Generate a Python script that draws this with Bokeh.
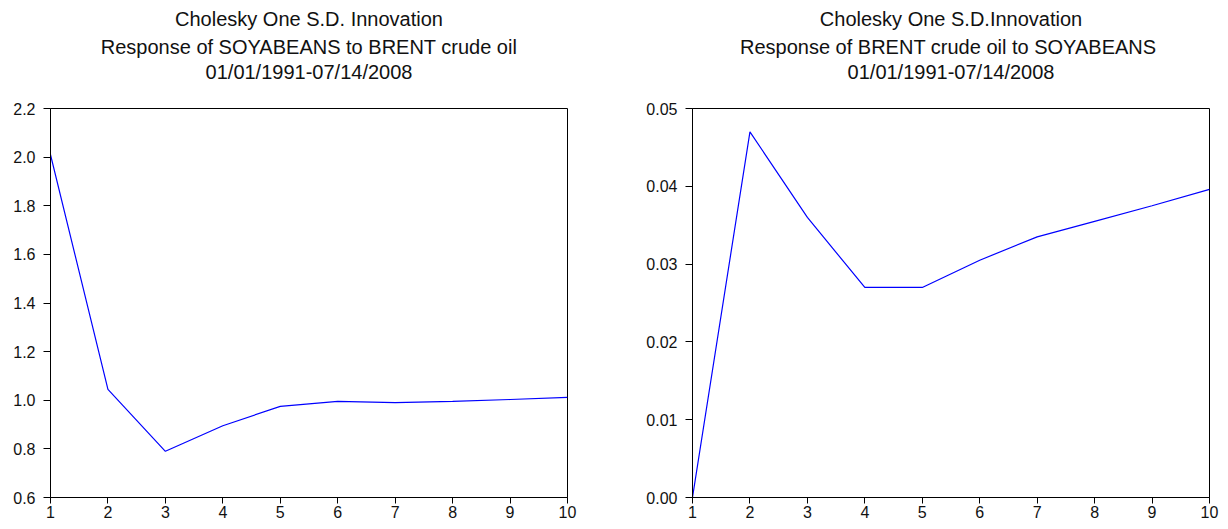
from bokeh.plotting import figure
from bokeh.models import Range1d, FixedTicker, PrintfTickFormatter
from bokeh.core.properties import value
from bokeh.layouts import row, column
from bokeh.embed import file_html
from bokeh.resources import INLINE

# ---- data ----
periods = [1, 2, 3, 4, 5, 6, 7, 8, 9, 10]
soy_resp = [2.01, 1.045, 0.79, 0.895, 0.975, 0.995, 0.99, 0.995, 1.003, 1.012]
brent_resp = [0.0, 0.047, 0.036, 0.027, 0.027, 0.0305, 0.0335, 0.0355, 0.0375, 0.0396]
left_yticks = [0.6, 0.8, 1.0, 1.2, 1.4, 1.6, 1.8, 2.0, 2.2]
right_yticks = [0.0, 0.01, 0.02, 0.03, 0.04, 0.05]
left_titles = ["Cholesky One S.D. Innovation",
               "Response of SOYABEANS to BRENT crude oil",
               "01/01/1991-07/14/2008"]
right_titles = ["Cholesky One S.D.Innovation",
                "Response of BRENT crude oil  to SOYABEANS",
                "01/01/1991-07/14/2008"]

FONT = "Liberation Sans"
TICK_SIZE = "16px"
TITLE_SIZE = "20px"
TOTAL_W = 1228
HALF_W = 614
FRAME_W = 517
FRAME_H = 389
TITLE_H = 100
GAP_TOP = 8
TITLE_CENTERS = [18, 46, 71]
LEFT_BORDERS = (50, 78)

# title strip spanning both panels
t = figure(width=TOTAL_W, height=TITLE_H, output_backend="svg",
           toolbar_location=None, title_location=None,
           x_range=Range1d(0, TOTAL_W), y_range=Range1d(TITLE_H, 0),
           x_axis_type=None, y_axis_type=None,
           min_border=0, outline_line_color=None,
           background_fill_color="white", border_fill_color="white")
t.xgrid.visible = False
t.ygrid.visible = False
for k, titles in enumerate((left_titles, right_titles)):
    cx = k * HALF_W + LEFT_BORDERS[k] + FRAME_W / 2
    t.text(x=[cx] * len(titles), y=TITLE_CENTERS, text=titles,
           text_align="center", text_baseline="middle",
           text_font=value(FONT), text_font_size=TITLE_SIZE,
           text_color="#111111")


def make(y, yticks, fmt, yr, bl, br):
    p = figure(frame_width=FRAME_W, frame_height=FRAME_H, output_backend="svg",
               toolbar_location=None, title_location=None,
               x_range=Range1d(1, 10), y_range=Range1d(*yr),
               min_border_left=bl, min_border_right=br,
               min_border_top=GAP_TOP, min_border_bottom=32,
               background_fill_color="white", border_fill_color="white")
    p.line(periods, y, line_color="#0000FF", line_width=1.2)
    p.xgrid.visible = False
    p.ygrid.visible = False
    p.outline_line_color = "black"
    p.outline_line_alpha = 1.0
    p.outline_line_width = 1
    for ax in (p.xaxis[0], p.yaxis[0]):
        ax.axis_line_color = "black"
        ax.major_tick_line_color = "black"
        ax.major_tick_in = 0
        ax.minor_tick_line_color = None
        ax.major_label_text_font = FONT
        ax.major_label_text_font_size = TICK_SIZE
        ax.major_label_text_color = "#111111"
    p.xaxis.ticker = FixedTicker(ticks=periods)
    p.xaxis.major_tick_out = 6
    p.xaxis.major_label_standoff = 2
    p.yaxis.ticker = FixedTicker(ticks=yticks)
    p.yaxis.formatter = PrintfTickFormatter(format=fmt)
    p.yaxis.major_tick_out = 7
    p.yaxis.major_label_standoff = 8
    return p


p1 = make(soy_resp, left_yticks, "%.1f", (0.6, 2.2), LEFT_BORDERS[0], HALF_W - LEFT_BORDERS[0] - FRAME_W)
p2 = make(brent_resp, right_yticks, "%.2f", (0.0, 0.05), LEFT_BORDERS[1], HALF_W - LEFT_BORDERS[1] - FRAME_W)
layout = column(t, row(p1, p2, spacing=0), spacing=0)

open("out.html", "w").write(file_html(layout, INLINE))
